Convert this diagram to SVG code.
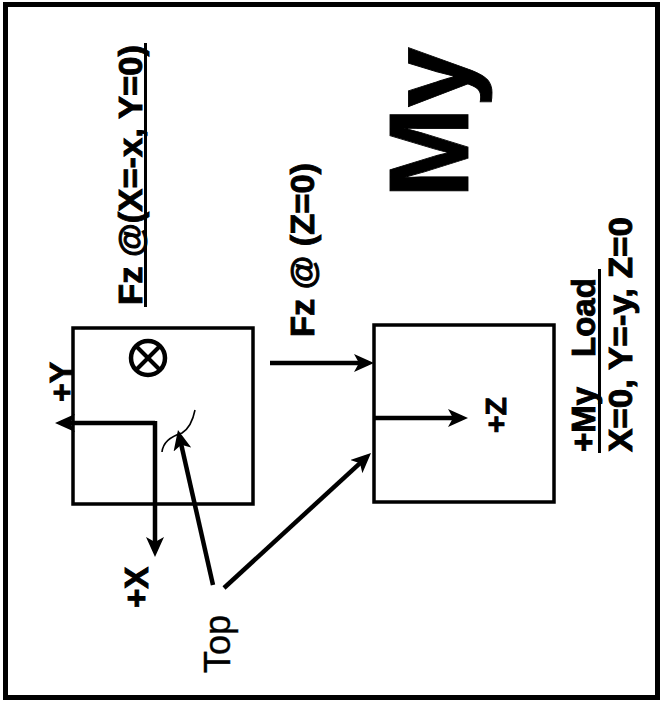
<svg xmlns="http://www.w3.org/2000/svg" width="662" height="703" viewBox="0 0 662 703">
<style>
.b{font-family:"Liberation Sans",Arial,sans-serif;font-weight:bold;fill:#000;stroke:#000;stroke-width:0.9}
.r{font-family:"Liberation Sans",Arial,sans-serif;font-weight:normal;fill:#000;stroke:#000;stroke-width:0.4}
.box{fill:none;stroke:#000;stroke-width:3.5}
.ax{fill:none;stroke:#000;stroke-width:4.5;marker-end:url(#ah)}
.ul{stroke:#000;stroke-width:3}
</style>
<defs>
<marker id="ah" viewBox="0 0 20 18" refX="14" refY="9" markerWidth="20" markerHeight="18" markerUnits="userSpaceOnUse" orient="auto">
<path d="M0,0 L20,9 L0,18 L5,9 Z" fill="#000"/>
</marker>
</defs>
<rect width="662" height="703" fill="#fff"/>
<rect id="frame" x="5.5" y="4.5" width="652" height="693" fill="none" stroke="#000" stroke-width="5"/>

<g id="box-top">
<rect class="box" x="73" y="328" width="180" height="176"/>
<g id="into-page">
<circle cx="148" cy="358" r="17" fill="none" stroke="#000" stroke-width="4.5"/>
<line x1="136" y1="346" x2="160" y2="370" stroke="#000" stroke-width="4"/>
<line x1="160" y1="346" x2="136" y2="370" stroke="#000" stroke-width="4"/>
</g>
<path id="curl" d="M195,410 C193,420 190,428 182,433 C172,436 163,442 162,452" fill="none" stroke="#000" stroke-width="1.6"/>
</g>

<g id="box-side">
<rect class="box" x="374" y="325" width="180" height="177"/>
</g>

<g id="connectors">
<line class="ax" x1="155" y1="423" x2="61" y2="423"/>
<line class="ax" x1="155" y1="421" x2="155" y2="551"/>
<line class="ax" x1="270" y1="363" x2="368" y2="363"/>
<line class="ax" x1="374" y1="418" x2="462" y2="418"/>
<line class="ax" x1="213" y1="585" x2="179.3" y2="435.9"/>
<line class="ax" x1="224" y1="588" x2="366.6" y2="457.1"/>
</g>

<g id="labels">
<g id="lbl-fz-x">
<text class="b" font-size="34" transform="translate(142,305) rotate(-90)" textLength="260" lengthAdjust="spacingAndGlyphs">Fz @(X=-x, Y=0)</text>
<line class="ul" x1="145.5" y1="307" x2="145.5" y2="43"/>
</g>
<text id="lbl-fz-z" class="b" font-size="34" transform="translate(314,337) rotate(-90)" textLength="174" lengthAdjust="spacingAndGlyphs">Fz @ (Z=0)</text>
<text id="lbl-my" class="b" font-size="114" stroke-width="2" transform="translate(468,198) rotate(-90)" textLength="151" lengthAdjust="spacingAndGlyphs">My</text>
<text id="lbl-y" class="b" font-size="32" transform="translate(72,402) rotate(-90)">+Y</text>
<text id="lbl-x" class="b" font-size="33" transform="translate(148,608) rotate(-90)">+X</text>
<text id="lbl-z" class="b" font-size="30" transform="translate(506,433) rotate(-90)">+Z</text>
<text id="lbl-top" class="r" font-size="36" transform="translate(230,673) rotate(-90)">Top</text>
<g id="lbl-load">
<text class="b" font-size="33" transform="translate(595,452) rotate(-90)"><tspan x="0">+My</tspan><tspan x="95">Load</tspan></text>
<line class="ul" x1="599.5" y1="453" x2="599.5" y2="269"/>
<text class="b" font-size="34" transform="translate(632,452) rotate(-90)" textLength="235" lengthAdjust="spacingAndGlyphs">X=0, Y=-y, Z=0</text>
</g>
</g>
</svg>
